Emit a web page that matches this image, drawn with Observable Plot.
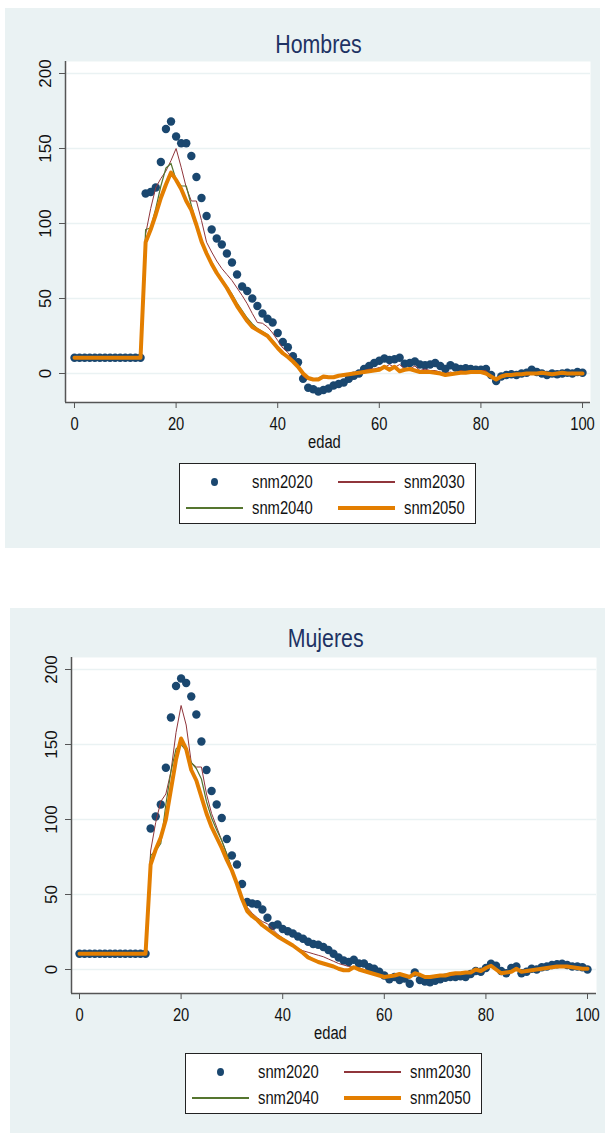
<!DOCTYPE html>
<html>
<head>
<meta charset="utf-8">
<script src="https://cdn.jsdelivr.net/npm/d3@7"></script>
<script src="https://cdn.jsdelivr.net/npm/@observablehq/plot@0.6"></script>
<style>
  html, body { margin: 0; padding: 0; background: #ffffff; }
  body { position: relative; width: 605px; height: 1135px; overflow: hidden;
         font-family: "Liberation Sans", Arial, sans-serif; }
  .panel { position: absolute; background: #eaf2f3; }
  .panel svg { position: absolute; left: 0; top: 0; overflow: visible; }
  .title { position: absolute; white-space: nowrap; color: #1e3264; font-size: 26px; line-height: 26px;
           transform: translateX(-50%) scaleX(0.82); transform-origin: 0 0; }
  .xlab { position: absolute; white-space: nowrap; color: #111; font-size: 18px; line-height: 18px;
          transform: translateX(-50%) scaleX(0.82); transform-origin: 0 0; }
  .legend { position: absolute; background: #fff; border: 1px solid #222; box-sizing: border-box; }
  .legend .txt { position: absolute; font-size: 18px; line-height: 18px; color: #111; white-space: nowrap;
                 transform: scaleX(0.82); transform-origin: 0 0; }
  .legend .sym { position: absolute; }
</style>
</head>
<body>
<script>
// ---------------- DATA ----------------
const edad = d3.range(0, 101);
const seriesNames = ["snm2020", "snm2030", "snm2040", "snm2050"];
const yTicks = [0, 50, 100, 150, 200];
const xTicks = [0, 20, 40, 60, 80, 100];

// Hombres
const hom2020 = [
  10.5,10.5,10.5,10.5,10.5,10.5,10.5,10.5,10.5,10.5,
  10.5,10.5,10.5,10.5,120,121,124,141,163,168,
  158,153.5,153.5,145,131,117,105,96,90,86,
  80,74,66,58,55,50,45,40,36.5,34,
  27,21,17.5,11.5,7.5,-3.5,-9.5,-10.5,-12,-11,
  -10,-8,-7,-6,-3.5,-1.5,0,3,5,7,
  8.5,10,9,9.5,10.5,6.5,7,8,6,5.5,
  6,7,5,3,5.5,4,3,3.5,3,2.5,
  2.5,3,-1,-5,-2,-1,-0.5,-1,0,0.5,
  2.5,1,0,-1,0,-0.5,0,0.5,0,1,
  0.5
];
const hom2030 = [
  10.5,10.5,10.5,10.5,10.5,10.5,10.5,10.5,10.5,10.5,
  10.5,10.5,10.5,10.5,93,110,124,130,135,142,
  150,137.5,124,115,115,102,87.5,81,75,70,
  66,62,57,52,46.5,40,34,33.5,31,27,
  22,17,14,9,4.5,-2,-4,-4.5,-3.5,-3,
  -3,-2.5,-2,-1.5,-0.5,0.5,1,2,3,3,
  4,4,6,4,6,3,3,5,2,3,
  2,2,1,0,1,0,2,1,2,2,
  2,2,-2,-3,-2,-1,0,-1,0,-1,
  0,0,1,0,-1,0,0,0,1,0,
  0
];
const hom2040 = [
  10.5,10.5,10.5,10.5,10.5,10.5,10.5,10.5,10.5,10.5,
  10.5,10.5,10.5,10.5,96,97,110,125,137,140,
  129,125,125,112,100,89,81,74,68,63,
  58,53,47,42,37,33,30,28,26,22,
  18,14,11,8,5,0,-3,-3.5,-3,-1.5,
  -2,-2,-1,-0.5,0,0.5,1,1.5,2,2.5,
  3,4,3.5,4,2.5,3,3,2.5,1.5,1.5,
  1.5,1,0.5,-0.5,0,0.5,1,1,1.5,1.5,
  1.5,0.5,-1.5,-3.5,-2,-1,-0.5,-0.5,0,0,
  0.5,0,0.5,0,0,0,0.5,0,0,0,
  0
];
const hom2050 = [
  10.5,10.5,10.5,10.5,10.5,10.5,10.5,10.5,10.5,10.5,
  10.5,10.5,10.5,10.5,87.5,96,106,117,126,134,
  129,123,115,109,99,88,80,73,67,62,
  57,51,45,40,35,31,29,27,25,21,
  17,13.5,11,8,4.5,0,-3,-4,-4,-2,
  -2.5,-2.5,-1.5,-1,-0.5,0,0.5,1,1.5,2,
  2.5,4.5,2.5,4.5,1.5,2.5,3,2,1,1,
  1,0.5,0,-1,-0.5,0,0.5,0.5,1,1,
  1,0,-2,-4,-2,-1,-1,-0.5,-0.5,0,
  0,0,0.5,0,-0.5,0,0.5,0,0,0,
  0
];

// Mujeres
const muj2020 = [
  10.5,10.5,10.5,10.5,10.5,10.5,10.5,10.5,10.5,10.5,
  10.5,10.5,10.5,10.5,94,102,110,134.5,168,189,
  194,191,182,170,152,133,119,110,101,87,
  76,70,57,45,44,43.5,40,34.5,29,30,
  27,25.5,24,22,20.5,18.5,17,16.5,15,13,
  10.5,8,6,5,6.5,4,4,1.5,0.5,-1.5,
  -4,-6.5,-5,-7,-6,-9.5,-2,-7,-8,-8.5,
  -7.5,-6.5,-5.5,-5,-5,-4.5,-5,-3,-1,-1.5,
  1,3.8,2.5,-1,-2.5,1,2,-2.5,-1.5,0.5,
  0,1.5,2,3,3.5,3.8,3,2,2,1.5,
  0
];
const muj2030 = [
  10.5,10.5,10.5,10.5,10.5,10.5,10.5,10.5,10.5,10.5,
  10.5,10.5,10.5,10.5,79,98,112,117,132,158,
  176,163,138,135,135,117,104,95,86,77,
  67,57,48,41.5,37.5,34.5,32,30.5,27,23.5,
  21,18.5,16,14,12.5,11.5,10.5,9.5,8.5,7,
  5.5,4,3,2,1.5,1,0,-1.5,-2.5,-3.5,
  -5,-4.5,-3.5,-3,-4,-5,-3.5,-3,-4.5,-5,
  -5,-4.5,-4,-4,-3.5,-3,-2.5,-2,-1,-1.5,
  0.5,2,0,-3,-2.5,-1.5,0,-1,-2,-1,
  -0.5,0,0.5,1,1.5,2,2,2,1.5,1,
  0.5
];
const muj2040 = [
  10.5,10.5,10.5,10.5,10.5,10.5,10.5,10.5,10.5,10.5,
  10.5,10.5,10.5,10.5,76,79,84,110,132,147,
  150,146,138,134,127,112,101,93,86,77,
  67,58,48,40,36,33,30,27.5,25,22.5,
  20.5,18.5,16.5,14,11.5,9,7,5.5,4.5,3.5,
  2.5,1,0,0,1.5,0.5,-0.5,-1.5,-2.5,-3.5,
  -4.5,-4,-3.5,-2.5,-3.5,-4.5,-2.5,-3,-4.5,-4.5,
  -4,-3.5,-3.5,-2.5,-2,-2,-1.5,-1.5,0,-0.5,
  1,2.5,0.5,-2,-1.5,-1,0.5,-1,-0.5,0,
  0,0.5,1,1.5,2,2,2,2,1.5,1,
  0.5
];
const muj2050 = [
  10.5,10.5,10.5,10.5,10.5,10.5,10.5,10.5,10.5,10.5,
  10.5,10.5,10.5,10.5,70,80,88,100,120,140,
  154,147,133,126,115,104,95,88,81,73,
  66,57,47,39,35.5,33,29.5,27,24.5,22,
  20,18,16,13.5,11,8,6.5,5,4,3,
  2,0.5,-0.5,-0.5,1.5,0,-1,-2,-3,-4,
  -5,-4.5,-4,-3,-4,-5,-2.5,-3.5,-5,-5,
  -4.5,-4,-4,-3,-2.5,-2.5,-2,-2,0,-1,
  1,2.5,0,-2.5,-2,-1.5,0.5,-1.5,-1,-0.5,
  0,0.5,1,1.5,2,2,2,1.5,1,0.5,
  0.5
];

// ---------------- STYLE ----------------
const C20 = "#1a476f", C30 = "#90353b", C40 = "#55752f", C50 = "#e37e00";
const GRID = "#eaf2f3", AXIS = "#555555";
const SANS = '"Liberation Sans", Arial, sans-serif';
const SQUEEZE = 0.82;

function makePanel(cfg) {
  const { left, top, width, height, frameLeft, frameRight, frameTop, frameBottom,
          xDomain, yDomain, title, s20, s30, s40, s50, titleY, edadY, legendLeft, legendTop } = cfg;
  const panel = document.createElement("div");
  panel.className = "panel";
  Object.assign(panel.style, { left: left + "px", top: top + "px", width: width + "px", height: height + "px" });
  document.body.appendChild(panel);

  const cx = (frameLeft + frameRight) / 2 - left;

  const t = document.createElement("div");
  t.className = "title";
  t.textContent = title;
  t.style.left = cx + "px";
  t.style.top = (titleY - top - 0.49 * 26) + "px";
  panel.appendChild(t);

  const rows = edad.map((e, i) => ({ edad: e, s20: s20[i], s30: s30[i], s40: s40[i], s50: s50[i] }));
  const svgH = frameBottom - top + 36;

  const chart = Plot.plot({
    width: width,
    height: svgH,
    marginLeft: frameLeft - left,
    marginRight: left + width - frameRight,
    marginTop: frameTop - top,
    marginBottom: svgH - (frameBottom - top),
    x: { domain: xDomain, label: null },
    y: { domain: yDomain, label: null },
    style: { background: "transparent", color: "#111", fontFamily: SANS, fontSize: "18px", overflow: "visible" },
    marks: [
      Plot.frame({ fill: "white", stroke: null }),
      Plot.gridY(yTicks, { stroke: GRID, strokeOpacity: 1, strokeWidth: 1.5 }),
      Plot.ruleX([xDomain[0]], { stroke: AXIS, strokeWidth: 1.5 }),
      Plot.ruleY([yDomain[0]], { stroke: AXIS, strokeWidth: 1.5 }),
      Plot.axisY(yTicks, { tickSize: 6, tickRotate: -90, tickPadding: 9, label: null,
                           fontFamily: SANS, fontSize: 17, stroke: AXIS }),
      Plot.axisX(xTicks, { tickSize: 6, tickPadding: 9, label: null, fontSize: 18, stroke: AXIS }),
      Plot.dot(rows, { x: "edad", y: "s20", r: 4.2, fill: C20, stroke: null }),
      Plot.line(rows, { x: "edad", y: "s30", stroke: C30, strokeWidth: 1 }),
      Plot.line(rows, { x: "edad", y: "s40", stroke: C40, strokeWidth: 1.2 }),
      Plot.line(rows, { x: "edad", y: "s50", stroke: C50, strokeWidth: 4, strokeLinejoin: "round" })
    ]
  });
  // condense x tick labels (narrow face look)
  chart.querySelectorAll('g[aria-label="x-axis tick label"] text').forEach(el => {
    const x = +el.getAttribute("x") || 0;
    const tr = el.getAttribute("transform") || "";
    el.setAttribute("transform", `${tr} translate(${x},0) scale(${SQUEEZE},1) translate(${-x},0)`);
  });
  panel.appendChild(chart);

  const xl = document.createElement("div");
  xl.className = "xlab";
  xl.textContent = "edad";
  xl.style.left = cx + "px";
  xl.style.top = (edadY - top - 0.49 * 18) + "px";
  panel.appendChild(xl);

  // legend
  const lg = document.createElement("div");
  lg.className = "legend";
  Object.assign(lg.style, { left: (legendLeft - left) + "px", top: (legendTop - top) + "px", width: "297px", height: "61px" });
  panel.appendChild(lg);
  const items = [
    { name: seriesNames[0], kind: "dot", color: C20, col: 0, row: 0 },
    { name: seriesNames[1], kind: "line", color: C30, w: 1.3, col: 1, row: 0 },
    { name: seriesNames[2], kind: "line", color: C40, w: 1.6, col: 0, row: 1 },
    { name: seriesNames[3], kind: "line", color: C50, w: 4.5, col: 1, row: 1 }
  ];
  items.forEach(it => {
    const rowY = it.row === 0 ? 18 : 44;
    const symL = it.col === 0 ? 6 : 158;
    const txtL = it.col === 0 ? 72 : 224;
    const s = document.createElement("div");
    s.className = "sym";
    if (it.kind === "dot") {
      Object.assign(s.style, { left: (symL + 28 - 3.5) + "px", top: (rowY - 4) + "px", width: "7px", height: "8px",
                               borderRadius: "50%", background: it.color });
    } else {
      Object.assign(s.style, { left: symL + "px", top: (rowY - it.w / 2) + "px", width: "57px", height: it.w + "px",
                               background: it.color });
    }
    lg.appendChild(s);
    const tx = document.createElement("div");
    tx.className = "txt";
    tx.textContent = it.name;
    tx.style.left = txtL + "px";
    tx.style.top = (rowY - 0.49 * 18) + "px";
    lg.appendChild(tx);
  });
}

makePanel({
  left: 5, top: 8, width: 595, height: 540,
  frameLeft: 65, frameRight: 590, frameTop: 61, frameBottom: 402,
  xDomain: [-1.77, 101.57], yDomain: [-19.33, 208],
  title: "Hombres", s20: hom2020, s30: hom2030, s40: hom2040, s50: hom2050,
  titleY: 44, edadY: 442, legendLeft: 179, legendTop: 463
});
makePanel({
  left: 10, top: 608, width: 595, height: 525,
  frameLeft: 71, frameRight: 596, frameTop: 657, frameBottom: 993,
  xDomain: [-1.575, 101.77], yDomain: [-16, 208],
  title: "Mujeres", s20: muj2020, s30: muj2030, s40: muj2040, s50: muj2050,
  titleY: 638, edadY: 1033, legendLeft: 185, legendTop: 1053
});
</script>
</body>
</html>
